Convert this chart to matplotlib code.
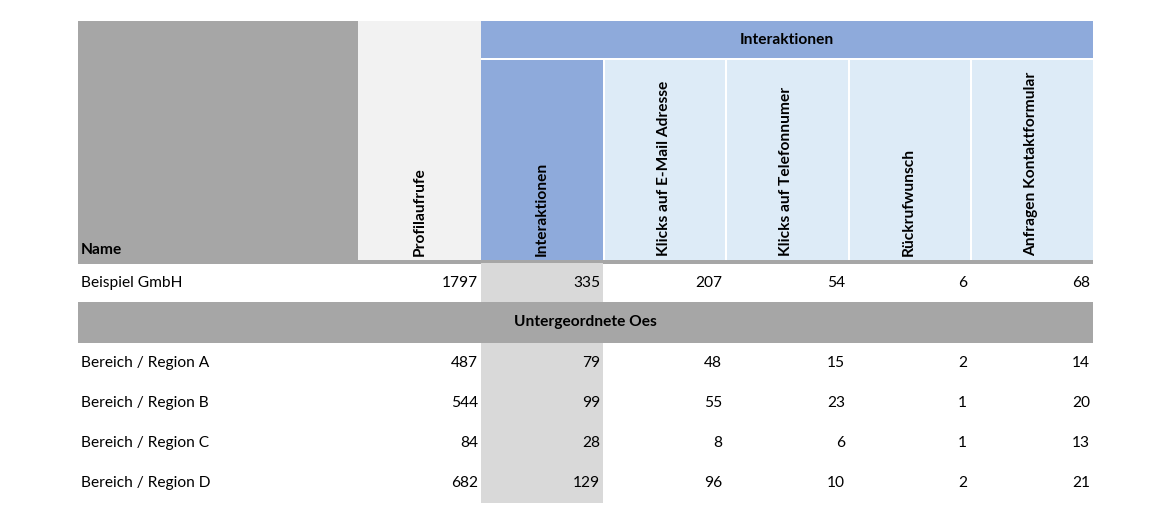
import matplotlib
matplotlib.use("Agg")
import matplotlib.pyplot as plt
from matplotlib.patches import Rectangle

# ---- data ----
group_header = "Interaktionen"
name_header = "Name"
columns = ["Profilaufrufe", "Interaktionen", "Klicks auf E-Mail Adresse",
           "Klicks auf Telefonnumer", "Rückrufwunsch", "Anfragen Kontaktformular"]
total_name = "Beispiel GmbH"
total_values = [1797, 335, 207, 54, 6, 68]
section_label = "Untergeordnete Oes"
sub_names = ["Bereich / Region A", "Bereich / Region B", "Bereich / Region C", "Bereich / Region D"]
profilaufrufe = [487, 544, 84, 682]
interaktionen = [79, 99, 28, 129]
klicks_email = [48, 55, 8, 96]
klicks_telefon = [15, 23, 6, 10]
rueckruf = [2, 1, 1, 2]
anfragen = [14, 20, 13, 21]

# ---- layout (pixels) ----
W, H = 1170, 523
x0 = 78
name_w = 280
col_w = [123, 122, 122, 123, 122, 123]
top_y, top_h = 21, 37
sub_y, sub_h = 60, 200
line_y, line_h = 260, 4
row_h = 40
body_y = 264

C_GRAY = "#a6a6a6"
C_LIGHT = "#f2f2f2"
C_BLUE = "#8eaadb"
C_LBLUE = "#ddebf7"
C_BODY = "#d9d9d9"

FONT = ["Lato", "DejaVu Sans"]
FS = 11.2

fig = plt.figure(figsize=(W / 100, H / 100), dpi=100)
ax = fig.add_axes([0, 0, 1, 1])
ax.set_xlim(0, W)
ax.set_ylim(H, 0)
ax.axis("off")

def rect(x, y, w, h, c):
    ax.add_patch(Rectangle((x, y), w, h, facecolor=c, edgecolor="none", lw=0))

col_x = [x0 + name_w]
for w in col_w[:-1]:
    col_x.append(col_x[-1] + w)
x_end = col_x[-1] + col_w[-1]

# header
rect(x0, top_y, name_w, line_y + line_h - top_y, C_GRAY)
rect(col_x[0], top_y, col_w[0], line_y - top_y, C_LIGHT)
rect(col_x[1], top_y, x_end - col_x[1], top_h, C_BLUE)
ax.text((col_x[1] + x_end) / 2, top_y + top_h / 2, group_header, ha="center", va="center",
        fontsize=FS, fontweight="bold", family=FONT, color="#000000")
for i in range(1, len(columns)):
    c = C_BLUE if i == 1 else C_LBLUE
    rect(col_x[i] + (0 if i == 1 else 2), sub_y, col_w[i] - (0 if i == 1 else 2), sub_h, c)
rect(x0, line_y, x_end - x0, line_h, C_GRAY)
ax.text(x0 + 3, 250, name_header, ha="left", va="center", fontsize=FS,
        fontweight="bold", family=FONT)
for i, lab in enumerate(columns):
    ax.text(col_x[i] + col_w[i] / 2, 256, lab, rotation=90, ha="center", va="bottom",
            fontsize=FS, fontweight="bold", family=FONT)

# body
sub_data = list(zip(profilaufrufe, interaktionen, klicks_email, klicks_telefon, rueckruf, anfragen))

def draw_row(y, name, vals):
    rect(col_x[1], y, col_w[1], row_h, C_BODY)
    ax.text(x0 + 3, y + row_h / 2, name, ha="left", va="center", fontsize=FS, family=FONT)
    for i, v in enumerate(vals):
        ax.text(col_x[i] + col_w[i] - 3, y + row_h / 2, str(v), ha="right", va="center",
                fontsize=FS, family=FONT)

y = body_y
draw_row(y - 1, total_name, total_values)
y += row_h - 2
rect(x0, y, x_end - x0, row_h + 1, C_GRAY)
ax.text((x0 + x_end) / 2, y + row_h / 2, section_label, ha="center", va="center",
        fontsize=FS, fontweight="bold", family=FONT)
y += row_h + 1
for n, vals in zip(sub_names, sub_data):
    draw_row(y, n, vals)
    y += row_h

fig.savefig("out.png", dpi=100, facecolor="white")
